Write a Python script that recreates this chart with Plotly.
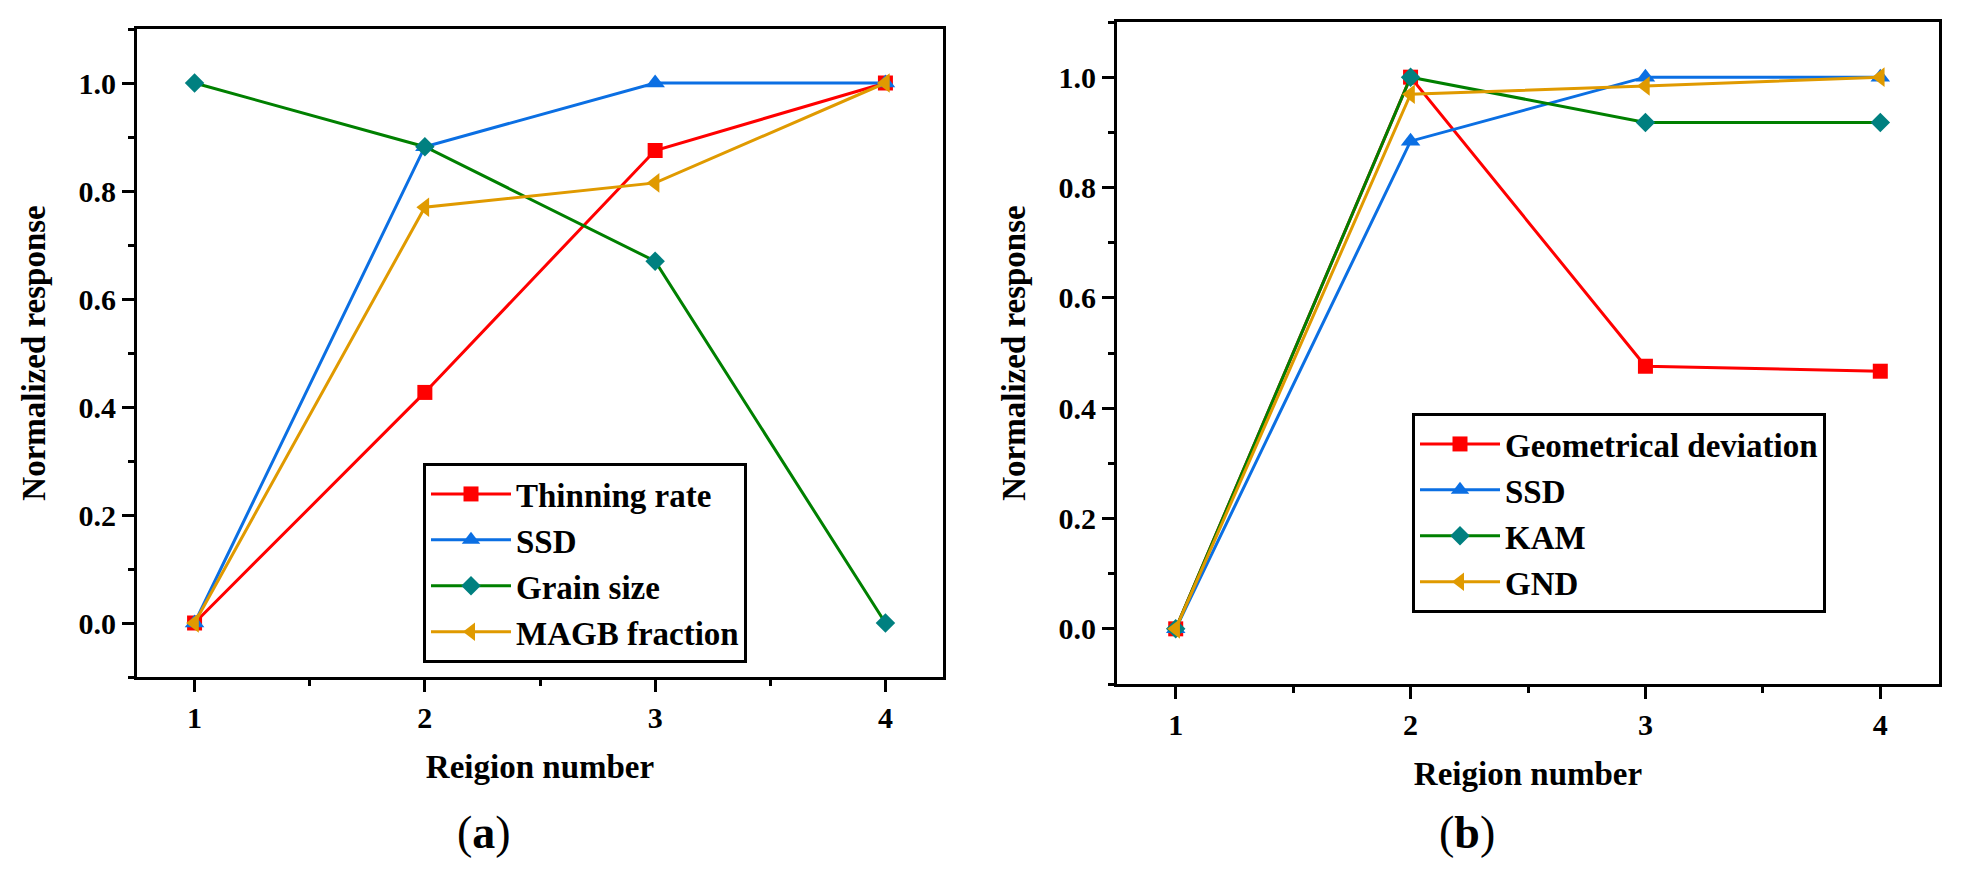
import plotly.graph_objects as go

W, H = 1961, 879

regions = [1, 2, 3, 4]
# panel (a)
thinning_rate = [0.0, 0.427, 0.875, 1.0]
ssd_a = [0.0, 0.882, 1.0, 1.0]
grain_size = [1.0, 0.882, 0.67, 0.0]
magb_fraction = [0.0, 0.77, 0.815, 1.0]
# panel (b)
geom_deviation = [0.0, 1.0, 0.476, 0.467]
ssd_b = [0.0, 0.884, 1.0, 1.0]
kam = [0.0, 1.0, 0.918, 0.918]
gnd = [0.0, 0.969, 0.984, 1.0]

names_a = ["Thinning rate", "SSD", "Grain size", "MAGB fraction"]
names_b = ["Geometrical deviation", "SSD", "KAM", "GND"]

RED = "#FF0000"
BLUE = "#0B6FE3"
GREEN = "#008000"
TEAL = "#008080"
ORANGE = "#E09A00"

FONT = "Liberation Serif, Times New Roman, serif"

styles = [
    dict(line=RED, marker=RED, symbol="square", size=15),
    dict(line=BLUE, marker=BLUE, symbol="triangle-up", size=17),
    dict(line=GREEN, marker=TEAL, symbol="diamond", size=15),
    dict(line=ORANGE, marker=ORANGE, symbol="triangle-left", size=17),
]

fig = go.Figure()

for name, ys, st in zip(names_a, [thinning_rate, ssd_a, grain_size, magb_fraction], styles):
    fig.add_trace(go.Scatter(
        x=regions, y=ys, name=name, mode="lines+markers",
        line=dict(color=st["line"], width=3),
        marker=dict(color=st["marker"], symbol=st["symbol"], size=st["size"]),
        xaxis="x", yaxis="y", legend="legend",
    ))

for name, ys, st in zip(names_b, [geom_deviation, ssd_b, kam, gnd], styles):
    fig.add_trace(go.Scatter(
        x=regions, y=ys, name=name, mode="lines+markers",
        line=dict(color=st["line"], width=3),
        marker=dict(color=st["marker"], symbol=st["symbol"], size=st["size"]),
        xaxis="x2", yaxis="y2", legend="legend2",
    ))

def px_x(v):
    return v / W

def px_y(v):
    return 1 - v / H

tickfont = dict(family=FONT, size=30, color="black", weight="bold")
titlefont = dict(family=FONT, size=33, color="black", weight="bold")

common_x = dict(
    range=[0.75, 4.25], tick0=1, dtick=1, ticks="outside", ticklen=12, tickwidth=2.5,
    tickcolor="black", showline=True, linecolor="black", linewidth=2.8, mirror=True,
    showgrid=False, zeroline=False, tickfont=tickfont, automargin=False,
    minor=dict(ticks="outside", ticklen=6, tickwidth=2.5, tickcolor="black", dtick=0.5, tick0=1, showgrid=False),
    title=dict(text="Reigion number", font=titlefont, standoff=22),
)
common_y = dict(
    range=[-0.1, 1.1], tick0=0, dtick=0.2, tickformat=".1f", ticks="outside", ticklen=12,
    tickwidth=2.5, tickcolor="black", showline=True, linecolor="black", linewidth=2.8,
    mirror=True, showgrid=False, zeroline=False, tickfont=tickfont, automargin=False,
    minor=dict(ticks="outside", ticklen=6, tickwidth=2.5, tickcolor="black", dtick=0.1, tick0=0, showgrid=False),
    title=dict(text="Normalized response", font=titlefont, standoff=24),
)

legend_common = dict(
    font=dict(family=FONT, size=33, color="black", weight="bold"),
    bgcolor="white", bordercolor="black", borderwidth=3,
    xanchor="left", yanchor="top", itemwidth=80, tracegroupgap=0,
    itemclick=False,
)

fig.update_layout(
    width=W, height=H,
    margin=dict(l=0, r=0, t=0, b=0),
    paper_bgcolor="white", plot_bgcolor="white",
    font=dict(family=FONT, color="black"),
    xaxis=dict(domain=[px_x(137), px_x(943)], anchor="y", **common_x),
    yaxis=dict(domain=[px_y(677), px_y(29)], anchor="x", **common_y),
    xaxis2=dict(domain=[px_x(1117), px_x(1939)], anchor="y2", **common_x),
    yaxis2=dict(domain=[px_y(684), px_y(22)], anchor="x2", **common_y),
    legend=dict(x=px_x(423), y=px_y(463), **legend_common),
    legend2=dict(x=px_x(1412), y=px_y(413), **legend_common),
    showlegend=True,
    annotations=[
        dict(text="(<b>a</b>)", x=px_x(484), y=px_y(832), xref="paper", yref="paper",
             showarrow=False, font=dict(family=FONT, size=46, color="black"),
             xanchor="center", yanchor="middle"),
        dict(text="(<b>b</b>)", x=px_x(1467), y=px_y(832), xref="paper", yref="paper",
             showarrow=False, font=dict(family=FONT, size=46, color="black"),
             xanchor="center", yanchor="middle"),
    ],
)

fig.write_html("out.html")
